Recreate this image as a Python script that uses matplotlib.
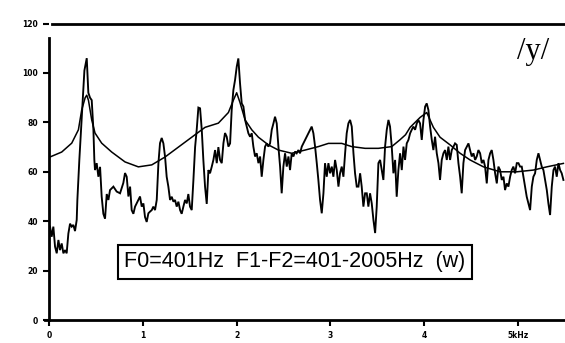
import matplotlib
matplotlib.use("Agg")
import matplotlib.pyplot as plt

# ---- data (frequency in Hz, level in dB) ----
spec_freq = [10.7, 28, 46, 64, 82, 100, 117, 135, 153, 171, 188, 206, 224, 242, 259, 277, 295, 302,
             323, 341, 359, 377, 402, 419, 437, 455, 473, 483, 490, 508, 526, 544, 561, 579, 597,
             615, 633, 650, 686, 721, 757, 792, 810, 828, 846, 864, 881, 899, 917, 952, 970, 988,
             1006, 1023, 1041, 1059, 1077, 1095, 1112, 1130, 1148, 1166, 1183, 1201, 1219, 1237,
             1254, 1272, 1290, 1308, 1326, 1343, 1361, 1379, 1397, 1414, 1432, 1450, 1468, 1485,
             1503, 1521, 1539, 1557, 1574, 1592, 1610, 1628, 1645, 1663, 1681, 1699, 1716, 1734,
             1752, 1770, 1788, 1805, 1823, 1841, 1859, 1876, 1894, 1912,
             1930, 1947, 1965, 1983, 2001, 2018, 2036, 2054, 2072, 2090, 2107, 2125, 2143, 2161,
             2178, 2196, 2214, 2232, 2250, 2267, 2285, 2303, 2321, 2338, 2356, 2374, 2392, 2409,
             2427, 2445, 2463, 2480, 2498, 2516, 2534, 2552, 2569, 2587, 2605, 2623, 2640, 2658,
             2676, 2694, 2711, 2729, 2747, 2765, 2783, 2800, 2818, 2836, 2854, 2871, 2889, 2907,
             2925, 2942, 2960, 2978, 2996, 3014, 3031, 3049, 3067, 3085, 3102, 3120, 3138, 3156,
             3173, 3191, 3209, 3227, 3245, 3262, 3280, 3298, 3316, 3333, 3351, 3369, 3387, 3404,
             3422, 3440, 3458, 3476, 3493, 3511, 3529, 3547, 3564, 3582, 3600, 3618, 3635, 3653,
             3671, 3689, 3706, 3724, 3742,
             3760, 3778, 3795, 3813, 3831, 3849, 3866, 3884, 3902, 3920, 3937, 3955, 3973, 3991,
             4009, 4026, 4044, 4062, 4080, 4097, 4115, 4133, 4151, 4168, 4186, 4204, 4222, 4240,
             4257, 4275, 4293, 4311, 4328, 4346, 4364, 4382, 4399, 4417, 4435, 4453, 4471, 4488,
             4506, 4524, 4542, 4559, 4577, 4595, 4613, 4631, 4648, 4666, 4684, 4702, 4719, 4737,
             4755, 4773, 4790, 4808, 4826, 4844, 4861, 4879, 4897, 4915, 4932, 4950, 4968, 4986,
             5004, 5021, 5039, 5057, 5075, 5092, 5110, 5128, 5146, 5163, 5181, 5199, 5217, 5235,
             5252, 5270, 5288, 5306, 5323, 5341, 5359, 5377, 5394, 5412, 5430, 5448, 5465, 5483]
spec_db = [37.8, 33.7, 37.8, 29.7, 27, 32.4, 28.3, 31, 27, 28.3, 27, 35, 39, 37.8, 38.5, 36, 40.5, 48.6,
           64.8, 77, 89, 101, 106, 92, 90, 89, 77, 64.8, 60.7, 63.5, 58, 62, 50, 43, 41,
           51, 48.6, 52.6, 54, 52, 51.3, 55.5, 59.5, 58, 50, 54, 44.5, 43, 45.9, 48.6, 50, 45.9,
           47.2, 41.7, 39.7, 43.2, 43.9, 44.5, 45.9, 44.5, 48.6, 63.5, 71.6, 73.7, 71.5, 66,
           58, 54, 48.6, 49.9, 47.9, 48.6, 45.9, 47.9, 44.5, 43, 45.9, 48.6, 47.2, 51,
           45.9, 44.5, 56.7, 70, 77, 86, 85.7, 77, 64.8, 54, 47, 60.7, 59.4, 62,
           64.8, 68.8, 63.5, 70, 64.8, 63.5, 71.6, 75.7, 74.2, 70.2,
           71.5, 85, 93.1, 97.2, 102.6, 105.9, 95.8, 87.7, 86.4, 81, 78.3, 75.6, 74.2, 75.6,
           70.2, 66.2, 67.5, 63.5, 66.2, 58, 64.8, 70.2, 71.5, 70.2, 71.5, 77, 79.6, 82.3,
           79.6, 70.2, 62.1, 51.3, 62.1, 67.5, 62.1, 66.2, 60.7, 67.5, 66.2, 68.2, 67.5, 68.8,
           67.5, 70.2, 71.5, 72.9, 74.2, 75.6, 77, 78.3, 75.6, 70.2, 63.5, 56.7, 48.6, 43.2,
           51.3, 63.5, 58, 63.5, 59.4, 62.1, 58, 64.8, 60.7, 54, 59.4, 62.1, 58, 67.5,
           75.6, 79.6, 81, 78.3, 67.5, 59.4, 54, 54, 59.4, 54, 45.9, 51.3, 51.3, 45.9,
           51.3, 47.2, 40.5, 35.2, 45.9, 63.5, 64.8, 60.7, 56.7, 70.2, 77, 81, 78.3, 70.2,
           59.4, 64.8, 49.9, 60.7, 67.5,
           60.7, 70.2, 64.8, 71.5, 72.9, 75.6, 77, 78.3, 77, 79.6, 81, 79.6, 72.9, 81,
           86.4, 87.7, 85, 78.3, 72.9, 68.8, 74.2, 67.5, 63.5, 56.7, 64.8, 67.5, 68.8, 64.8,
           70.2, 64.8, 68.8, 70.2, 71.5, 70.9, 63.5, 58, 51.3, 63.5, 68.8, 70.2, 71.5, 68.8,
           66.2, 67.5, 64.8, 66.2, 68.8, 67.5, 63.5, 64.8, 62.1, 55.3, 64.8, 67.5, 68.8, 64.8,
           59.4, 55.3, 62.1, 60.7, 56.7, 58, 52.6, 55.3, 54, 58, 60.7, 62.1, 59.4, 63.5,
           63.5, 62.1, 62.1, 58, 54, 49.9, 47.2, 44.5, 54, 58, 59.4, 64.8, 67.5, 64.8,
           62.1, 60.7, 56.7, 52.6, 47.2, 42.5, 54, 60.7, 62.1, 58, 63.5, 60.7, 59.4, 56.7]

env_freq = [10, 135, 242, 313, 348, 385, 402, 420, 455, 490, 561, 668, 810, 952, 1095, 1237,
            1379, 1521, 1663, 1805, 1912, 1965, 2000, 2036, 2090, 2161, 2232, 2338, 2445, 2587,
            2729, 2871, 2978, 3120, 3227, 3369, 3511, 3653, 3742, 3800, 3849, 3955, 4026, 4097,
            4168, 4275, 4382, 4488, 4631, 4808, 4986, 5163, 5306, 5483]
env_db = [66, 68, 71.6, 77, 85, 90, 91, 89, 81, 75.7, 71.6, 68, 64, 62, 62.8, 66,
          70, 74, 78, 79.7, 84, 89, 92, 88, 81, 77, 74, 70.9, 68.8, 67.5,
          68.8, 70.2, 71.5, 71.5, 70.2, 69.5, 69.5, 70.2, 73, 75, 78, 82, 84, 78,
          74, 70.9, 67.5, 64.8, 62, 60, 60, 60.7, 62, 63.4]

x_ticks = [0, 1, 2, 3, 4, 5]
x_tick_labels = ["0", "1", "2", "3", "4", "5kHz"]
y_ticks = [0, 20, 40, 60, 80, 100, 120]
y_tick_labels = ["0", "20", "40", "60", "80", "100", "120"]

label_text = "F0=401Hz  F1-F2=401-2005Hz  (w)"
vowel_text = "/y/"

# ---- figure ----
W, H = 565, 343
fig = plt.figure(figsize=(W / 100, H / 100), dpi=100)
x0 = -0.043
ax_left = 45 / W
ax_bottom = (H - 320) / H
ax_top = (H - 23.6) / H
ax = fig.add_axes([ax_left, ax_bottom, 1 - ax_left, ax_top - ax_bottom])
ax.set_xlim(x0, 5.5)
ax.set_ylim(0, 120)

fx = [f / 1000 for f in spec_freq]
ex = [f / 1000 for f in env_freq]
ax.plot(fx, spec_db, color="black", lw=1.35, solid_joinstyle="miter")
ax.plot(ex, env_db, color="black", lw=1.1)

for s in ["top", "right"]:
    ax.spines[s].set_visible(False)
ax.spines["left"].set_position(("data", 0))
ax.spines["left"].set_bounds(0, 114)
ax.spines["left"].set_linewidth(2)
ax.spines["bottom"].set_linewidth(2)
ax.axhline(120, xmin=(0.03 - x0) / (5.5 - x0), xmax=1, color="black", lw=2, clip_on=False)

ax.set_xticks(x_ticks)
ax.set_xticklabels(x_tick_labels)
ax.set_yticks(y_ticks)
ax.set_yticklabels(y_tick_labels)
ax.tick_params(axis="both", direction="out", length=4, width=1.5, color="black",
               labelsize=5.5, pad=4)
for lab in ax.get_xticklabels() + ax.get_yticklabels():
    lab.set_fontweight("bold")
    lab.set_family("DejaVu Sans")

ax.text(0.939, 0.905, vowel_text, transform=ax.transAxes, ha="center", va="center",
        fontsize=22, family="Liberation Serif")

ax.text(0.48, 0.196, label_text, transform=ax.transAxes, ha="center", va="center",
        fontsize=15.5, family="Liberation Sans",
        bbox=dict(boxstyle="square,pad=0.3", facecolor="white", edgecolor="black", lw=1.5))

fig.savefig("out.png", dpi=100)
